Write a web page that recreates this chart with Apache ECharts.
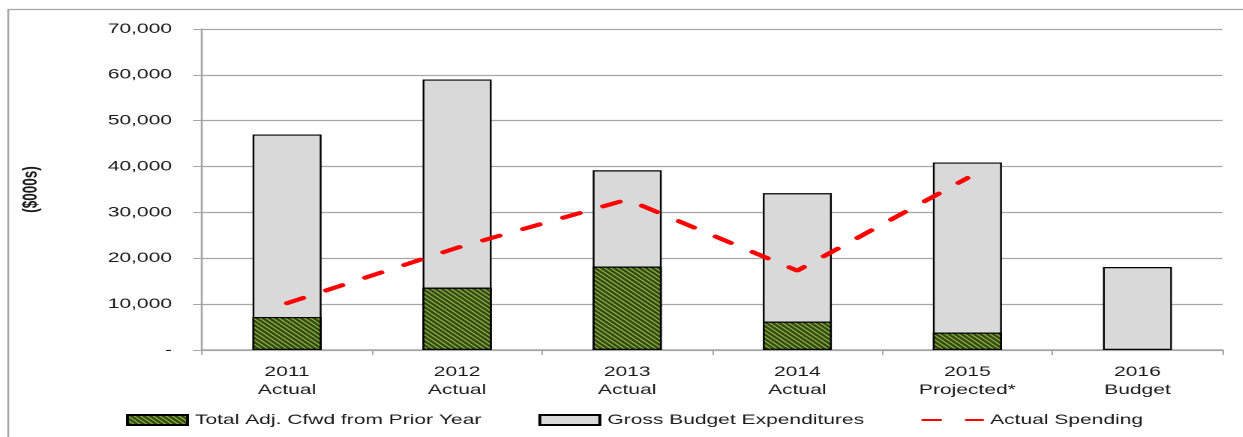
<!DOCTYPE html>
<html>
<head>
<meta charset="utf-8">
<script src="https://cdn.jsdelivr.net/npm/echarts@6/dist/echarts.min.js"></script>
<style>
  html, body { margin: 0; padding: 0; background: #fff; }
  #wrap { width: 1243px; height: 437px; overflow: hidden; position: relative; }
  #chart { width: 828.667px; height: 437px; transform: scaleX(1.5); transform-origin: 0 0; }
</style>
</head>
<body>
<div id="wrap"><div id="chart"></div></div>
<script>
// ---- data ----
const years = ['2011', '2012', '2013', '2014', '2015', '2016'];
const periods = ['Actual', 'Actual', 'Actual', 'Actual', 'Projected*', 'Budget'];
const cfwdPriorYear = [7200, 13600, 18200, 6200, 3800, null];
const grossBudgetExpenditures = [47000, 59000, 39200, 34200, 40900, 18100];
const actualSpending = [10200, 22300, 32800, 17300, 37500, null];
const yTicks = [0, 10000, 20000, 30000, 40000, 50000, 60000, 70000];

const categories = years.map((y, i) => y + '\n' + periods[i]);
const fmt = v => v === 0 ? '-' : v.toLocaleString('en-US');

const chart = echarts.init(document.getElementById('chart'), null, { devicePixelRatio: 2 });
const labelColor = '#1a1a1a';
const gridColor = '#a6a6a6';
const font = 'Liberation Sans, Arial, sans-serif';

chart.setOption({
  animation: false,
  textStyle: { fontFamily: font },
  graphic: [{
    type: 'rect',
    shape: { x: 5.5, y: 9.5, width: 2000, height: 1000 },
    style: { fill: 'none', stroke: '#a6a6a6', lineWidth: 1.3 },
    silent: true
  }],
  grid: { left: 134.67, right: 14, top: 29, bottom: 87 },
  legend: {
    left: 79,
    top: 408,
    itemWidth: 40,
    itemHeight: 10,
    itemGap: 38,
    textStyle: { fontSize: 14, color: labelColor, fontFamily: font },
    data: [
      { name: 'Total Adj. Cfwd from Prior Year', icon: 'rect' },
      { name: 'Gross Budget Expenditures', icon: 'rect' },
      { name: 'Actual Spending', itemStyle: { opacity: 0 } }
    ]
  },
  xAxis: {
    type: 'category',
    data: categories,
    axisLine: { lineStyle: { color: gridColor, width: 1.5 } },
    axisTick: { show: true, length: 5, lineStyle: { color: gridColor, width: 1 } },
    axisLabel: { color: labelColor, fontSize: 14, lineHeight: 18, margin: 13, fontFamily: font }
  },
  yAxis: {
    type: 'value',
    min: yTicks[0],
    max: yTicks[yTicks.length - 1],
    interval: yTicks[1] - yTicks[0],
    name: '($000s)',
    nameLocation: 'middle',
    nameRotate: 90,
    nameGap: 107,
    nameTextStyle: { fontSize: 13.5, fontWeight: 'bold', color: labelColor, fontFamily: font },
    axisLine: { show: true, lineStyle: { color: gridColor, width: 1.3 } },
    axisTick: { show: true, length: 6, lineStyle: { color: gridColor, width: 1 } },
    splitLine: { show: true, lineStyle: { color: gridColor, width: 1.3 } },
    axisLabel: { color: labelColor, fontSize: 14, margin: 20, formatter: fmt, fontFamily: font }
  },
  series: [
    {
      name: 'Total Adj. Cfwd from Prior Year',
      type: 'bar',
      data: cfwdPriorYear,
      barWidth: 46,
      barGap: '-100%',
      z: 3,
      itemStyle: {
        color: '#334a12',
        borderColor: '#000',
        borderWidth: 1.2,
        decal: {
          symbol: 'rect',
          color: '#8fb443',
          dashArrayX: [1, 0],
          dashArrayY: [0.8, 2],
          rotation: Math.PI / 4,
          symbolSize: 1
        }
      }
    },
    {
      name: 'Gross Budget Expenditures',
      type: 'bar',
      data: grossBudgetExpenditures,
      barWidth: 46,
      barGap: '-100%',
      z: 2,
      itemStyle: { color: '#d9d9d9', borderColor: '#000', borderWidth: 1.2 }
    },
    {
      name: 'Actual Spending',
      type: 'line',
      data: actualSpending,
      z: 4,
      symbol: 'none',
      showSymbol: false,
      connectNulls: false,
      lineStyle: { color: '#ff0000', width: 4, type: [12, 17], cap: 'round' },
      itemStyle: { color: '#ff0000' }
    }
  ]
});
</script>
</body>
</html>
